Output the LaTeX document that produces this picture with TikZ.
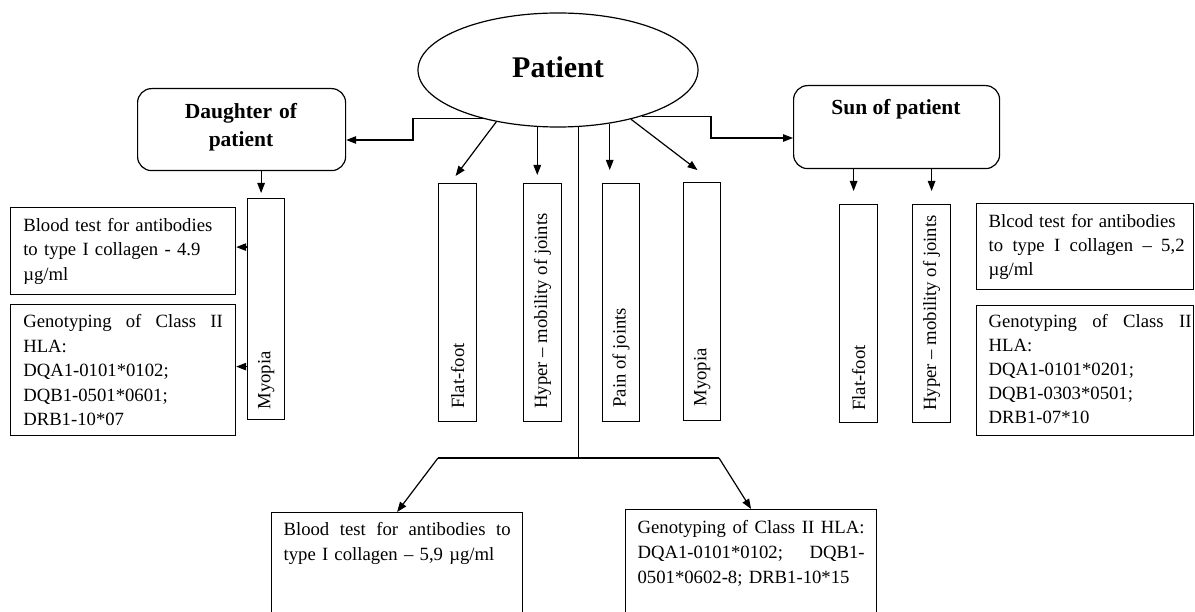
\documentclass[tikz,border=0pt]{standalone}
\usepackage{fontspec}
\setmainfont{Liberation Serif}
\usetikzlibrary{shapes.geometric, arrows.meta}
\newcommand\bodytxt{\fontsize{18.7pt}{24.5pt}\selectfont}
\newcommand\labtxt{\fontsize{21.5pt}{28.4pt}\selectfont\bfseries}
\newcommand\bigtxt{\fontsize{30pt}{36pt}\selectfont\bfseries}
\newcommand\jline[2]{\leavevmode\hbox to #1{#2}}
\begin{document}
\begin{tikzpicture}[x=1pt, y=-1pt, line width=1.2pt,
  box/.style={draw, rectangle, inner sep=0pt, anchor=north west},
  rbox/.style={box, rounded corners=14pt},
  txt/.style={anchor=base west, inner sep=0pt, align=left, font=\bodytxt},
  vlab/.style={rotate=90, anchor=west, inner sep=0pt, font=\bodytxt},
  arr/.style={-{Triangle[length=10pt,width=7.5pt]}}]
\useasboundingbox (0,0) rectangle (1195,612);
\fill[white] (0,0) rectangle (1195,612);
\clip (0,0) rectangle (1195,612);

% patient
\node[ellipse, draw, minimum width=280pt, minimum height=114pt, inner sep=0pt,
  font=\bigtxt, text height=20pt, text depth=5pt] (Patient) at (558,70) {Patient};

% rounded boxes
\node[rbox, minimum width=208pt, minimum height=82pt] (dau) at (137,88) {};
\node[rbox, minimum width=206pt, minimum height=83pt] (son) at (793,85) {};
\node[anchor=base, inner sep=0pt, text width=208pt, align=center, font=\labtxt] (daut) at (241,118.3) {Daughter of\\patient};
\node[anchor=base, inner sep=0pt, font=\labtxt] (sont) at (896,115) {Sun of patient};

% vertical boxes
\node[box, minimum width=38pt, minimum height=238pt] (ff) at (438,183) {};
\node[box, minimum width=38pt, minimum height=238pt] (hy) at (523,183) {};
\node[box, minimum width=37pt, minimum height=238pt] (pj) at (602,183) {};
\node[box, minimum width=37pt, minimum height=238pt] (mmy) at (683,182) {};
\node[box, minimum width=37pt, minimum height=221pt] (dmy) at (247,198) {};
\node[box, minimum width=38pt, minimum height=218pt] (sff) at (839,204) {};
\node[box, minimum width=38pt, minimum height=218pt] (shy) at (912,204) {};

\node[vlab] (fft) at ([yshift=13pt]ff.south) {Flat-foot};
\node[vlab] (hyt) at ([yshift=13pt]hy.south) {Hyper -- mobility of joints};
\node[vlab] (pjt) at ([yshift=14pt]pj.south) {Pain of joints};
\node[vlab] (mmyt) at ([yshift=14pt]mmy.south) {Myopia};
\node[vlab] (dmyt) at ([yshift=10pt]dmy.south) {Myopia};
\node[vlab] (sfft) at ([yshift=12pt]sff.south) {Flat-foot};
\node[vlab] (shyt) at ([yshift=12pt]shy.south) {Hyper -- mobility of joints};

% text boxes
\node[box, minimum width=225pt, minimum height=87pt] (dbt) at (10,207) {};
\node[box, minimum width=225pt, minimum height=131pt] (dgt) at (10,304) {};
\node[box, minimum width=217pt, minimum height=86pt] (sbt) at (976,203) {};
\node[box, minimum width=217pt, minimum height=130pt] (sgt) at (976,305) {};
\node[box, minimum width=251pt, minimum height=140pt] (bbt) at (271,512) {};
\node[box, minimum width=251pt, minimum height=140pt] (bgt) at (625,509) {};

\node[txt, text width=200pt] (dbtt) at (22.7,231.2) {Blood test for antibodies\\to type I collagen - 4.9\\µg/ml};
\node[txt, text width=200pt] (dgtt) at (22.7,327.8) {\jline{199.5pt}{Genotyping\hfill of\hfill Class\hfill II}\\HLA:\\DQA1-0101*0102;\\DQB1-0501*0601;\\DRB1-10*07};
\node[txt, text width=203pt, font=\fontsize{18.7pt}{24.2pt}\selectfont] (sbtt) at (988,227.3) {\jline{187pt}{Blcod\hfill test\hfill for\hfill antibodies}\\\jline{196pt}{to\hfill type\hfill I\hfill collagen\hfill --\hfill 5,2}\\µg/ml};
\node[txt, text width=203pt, font=\fontsize{18.7pt}{24pt}\selectfont] (sgtt) at (988,327.3) {\jline{203pt}{Genotyping\hfill of\hfill Class\hfill II}\\HLA:\\DQA1-0101*0201;\\DQB1-0303*0501;\\DRB1-07*10};
\node[txt, text width=227pt, font=\fontsize{18.7pt}{25pt}\selectfont] (bbtt) at (283,535) {\jline{227pt}{Blood\hfill test\hfill for\hfill antibodies\hfill to}\\type I collagen -- 5,9 µg/ml};
\node[txt, text width=227pt, font=\fontsize{18.7pt}{25pt}\selectfont] (bgtt) at (637,533.3) {\jline{227pt}{Genotyping\hfill of\hfill Class\hfill II\hfill HLA:}\\\jline{227pt}{DQA1-0101*0102;\hfill DQB1-}\\0501*0602-8; DRB1-10*15};

% connectors from patient
\coordinate (dbend) at (413,140);
\coordinate (sbend) at (711,138);
\draw[arr] (Patient.213) -| (dbend) -- (dbend -| dau.east);
\draw[arr] (Patient.331) -| (sbend) -- (sbend -| son.west);
\draw[arr, shorten >=8.8pt] (Patient.220) -- ([xshift=-7.3pt]ff.north);
\draw[arr, shorten >=8pt] (Patient.250) -- (Patient.250 |- hy.north);
\draw[arr, shorten >=13pt] (Patient.314) -- (Patient.314 |- pj.north);
\draw[arr, shorten >=19.6pt] (Patient.326) -- ([xshift=11pt]mmy.north);

% central trunk
\coordinate (jl) at (438,458);
\coordinate (jr) at (719,458);
\draw (Patient.290) -- (Patient.290 |- jl);
\draw (jl) -- (jr);
\draw[arr] (jl) -- (bbt.north);
\draw[arr] (jr) -- (bgt.north);

% daughter branch
\coordinate (dma) at ([xshift=-5pt]dmy.north);
\draw[arr, shorten >=5pt] (dma |- dau.south) -- (dma);
\coordinate (e1) at ([yshift=4pt]dbt.east);
\coordinate (e2) at ([yshift=3.5pt]dgt.east);
\draw[arr] (e1 -| dmy.west) -- (e1);
\draw[arr] (e2 -| dmy.west) -- (e2);

% son branch
\coordinate (s1) at ([xshift=-5pt]sff.north);
\draw[arr, shorten >=13pt] (s1 |- son.south) -- (s1);
\draw[arr, shorten >=13pt] (shy.north |- son.south) -- (shy.north);
\end{tikzpicture}
\end{document}
